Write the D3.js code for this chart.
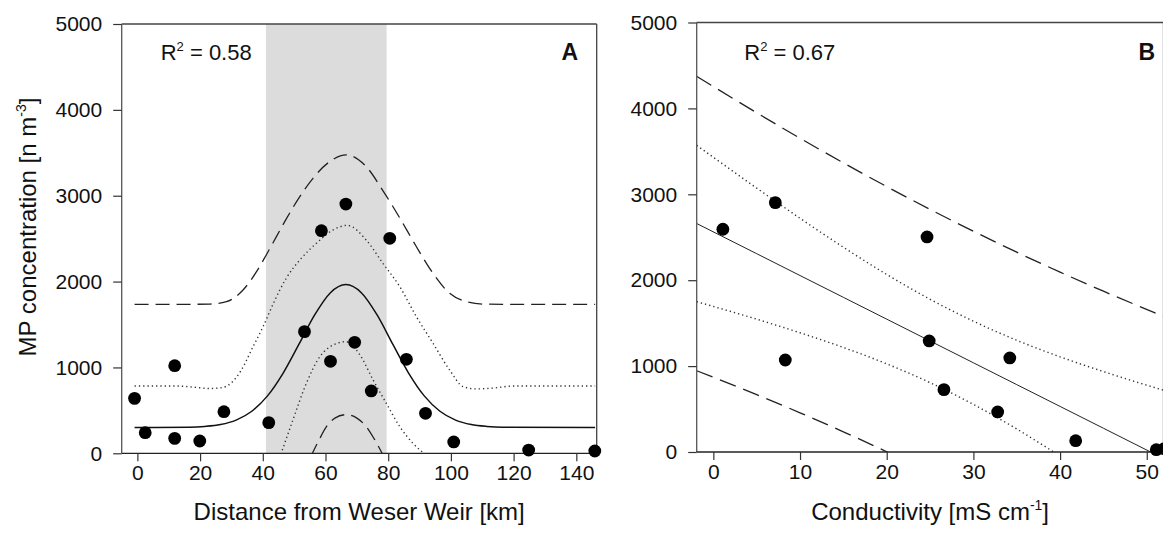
<!DOCTYPE html>
<html>
<head>
<meta charset="utf-8">
<script src="https://cdn.jsdelivr.net/npm/d3@7"></script>
<style>
  body { margin: 0; background: #fff; }
  svg { display: block; font-family: "Liberation Sans", Arial, Helvetica, sans-serif; }
</style>
</head>
<body>
<svg id="chart" width="1163" height="533"></svg>
<script>
// ---------- Panel A: MP concentration vs distance from Weser Weir ----------
const distKm = [-0.9, 2.5, 11.9, 11.9, 19.9, 27.6, 41.9, 53.3, 58.7, 61.6, 66.5, 69.3, 74.6, 80.5, 85.8, 91.9, 100.9, 124.8, 145.9];
const concA  = [640, 240, 1020, 174, 143, 485, 357, 1417, 2593, 1071, 2903, 1293, 726, 2504, 1095, 466, 132, 38, 27];

const shadeKm = [41, 79.5];

// Gaussian fit
const fitKmA  = [-0.9, 16.5, 21.5, 26.5, 31.5, 36.5, 41.5, 46.5, 51.5, 56.5, 61.5, 66.5, 71.5, 76.5, 81.5, 86.5, 91.5, 96.5, 101.5, 106.5, 111.5, 116.5, 146];
const fitValA = [300, 304, 313, 335, 387, 490, 669, 935, 1268, 1609, 1868, 1965, 1868, 1609, 1268, 935, 669, 490, 387, 335, 313, 304, 300];

// 95% prediction band (dashed)
const upPredKmA  = [-0.9, 15, 23, 28.4, 33.7, 38, 41.1, 44.3, 47.5, 51.8, 56, 61.3, 66.6, 73, 78.3, 83.7, 89, 94.3, 99.6, 104.9, 110.2, 118, 146];
const upPredValA = [1735, 1735, 1738, 1766, 1902, 2115, 2310, 2520, 2730, 2989, 3203, 3396, 3476, 3338, 3060, 2740, 2406, 2096, 1863, 1766, 1738, 1735, 1735];
const loPredKmA  = [55.3, 58, 60.3, 63, 66.5, 70, 73, 75.5, 78.5];
const loPredValA = [-40, 160, 310, 410, 450, 410, 310, 170, -30];

// 95% confidence band (dotted)
const upConfKmA  = [-0.9, 12, 18, 23, 27, 30.5, 33, 36.9, 40.1, 43.3, 47.5, 51.8, 57.1, 62.4, 67, 73, 78.3, 83.7, 89, 94.3, 99.6, 103.9, 108, 113, 120, 146];
const upConfValA = [784, 784, 770, 755, 765, 840, 960, 1242, 1475, 1740, 2040, 2251, 2446, 2601, 2655, 2484, 2213, 1940, 1591, 1281, 970, 776, 750, 758, 784, 784];
const loConfKmA  = [45.3, 49.6, 53.9, 58.2, 62.4, 66.5, 70.9, 75.2, 79.4, 83.7, 87.9, 92.5];
const loConfValA = [-60, 388, 815, 1125, 1261, 1300, 1150, 854, 582, 310, 116, -30];

// ---------- Panel B: MP concentration vs conductivity ----------
const conductivity = [1.1, 7.15, 8.3, 24.65, 24.9, 26.6, 34.2, 32.8, 41.8, 51.1, 52.0];
const concB        = [2593, 2903, 1071, 2504, 1293, 726, 1095, 466, 132, 27, 38];

// Linear regression with bands
const condGrid   = [-1.92, 5, 10, 15, 20, 25, 30, 35, 40, 45, 52];
const fitValB    = [2660, 2308.5, 2054.5, 1800.5, 1546.5, 1292.5, 1038.5, 784.5, 530.5, 276.5, -79];
const upConfValB = [3570, 3072, 2721, 2384, 2067, 1778, 1523, 1301, 1108, 936, 717];
const upPredValB = [4374, 3949, 3653, 3366, 3090, 2824, 2570, 2326, 2094, 1872, 1577];
const loConfCond = [-1.92, 5, 10, 15, 20, 25, 30, 35, 40];
const loConfValB = [1750, 1546, 1388, 1217, 1026, 807, 554, 268, -48];
const loPredCond = [-1.92, 5, 10, 15, 20, 22];
const loPredValB = [946, 668, 456, 235, 3, -92];

// ---------- Axes ----------
const yTicks  = [0, 1000, 2000, 3000, 4000, 5000];
const xTicksA = [0, 20, 40, 60, 80, 100, 120, 140];
const xTicksB = [0, 10, 20, 30, 40, 50];

const svg = d3.select("#chart");

const STYLE = {
  fit:  { width: 1.5, dash: null, color: "#111" },
  fitB: { width: 1.0, dash: null, color: "#222" },
  pred: { width: 1.3, dash: "14,7", color: "#222" },
  predB:{ width: 1.3, dash: "17,8", color: "#222" },
  conf: { width: 1.4, dash: "1.3,3", color: "#333" }
};

function drawPanel(p) {
  const x = d3.scaleLinear().domain(p.xDomain).range([p.left, p.right]);
  const y = d3.scaleLinear().domain([0, 5000]).range([p.bottom, p.top]);
  const g = svg.append("g");

  const clipId = "clip-" + p.id;
  g.append("clipPath").attr("id", clipId)
    .append("rect")
    .attr("x", p.left).attr("y", p.top)
    .attr("width", p.right - p.left).attr("height", p.bottom - p.top);

  if (p.shade) {
    g.append("rect")
      .attr("x", x(p.shade[0])).attr("y", y(5000))
      .attr("width", x(p.shade[1]) - x(p.shade[0]))
      .attr("height", y(0) - y(5000))
      .attr("fill", "#dcdcdc");
  }

  const line = d3.line()
    .x(d => x(d[0])).y(d => y(d[1]))
    .curve(p.curve || d3.curveMonotoneX);

  const lines = g.append("g").attr("clip-path", `url(#${clipId})`);
  p.lines.forEach(l => {
    const pts = l.xs.map((v, i) => [v, l.ys[i]]);
    lines.append("path")
      .attr("d", line(pts))
      .attr("fill", "none")
      .attr("stroke", l.style.color)
      .attr("stroke-width", l.style.width)
      .attr("stroke-dasharray", l.style.dash);
  });

  // frame
  g.append("line").attr("x1", p.left).attr("x2", p.right).attr("y1", p.top).attr("y2", p.top)
    .attr("stroke", "#444").attr("stroke-width", 1.3);
  g.append("line").attr("x1", p.right).attr("x2", p.right).attr("y1", p.top).attr("y2", p.bottom)
    .attr("stroke", "#444").attr("stroke-width", 1.3);
  g.append("line").attr("x1", p.left).attr("x2", p.left).attr("y1", p.top).attr("y2", p.bottom)
    .attr("stroke", "#555").attr("stroke-width", 1.3);
  g.append("line").attr("x1", p.left).attr("x2", p.right).attr("y1", p.bottom).attr("y2", p.bottom)
    .attr("stroke", "#222").attr("stroke-width", 1.3);

  // axes
  const fmt = d3.format("d");
  const xa = g.append("g").attr("transform", `translate(0,${p.bottom})`)
    .call(d3.axisBottom(x).tickValues(p.xTicks).tickFormat(fmt).tickSize(8).tickPadding(4));
  const ya = g.append("g").attr("transform", `translate(${p.left},0)`)
    .call(d3.axisLeft(y).tickValues(yTicks).tickFormat(fmt).tickSize(8.5).tickPadding(11));
  [xa, ya].forEach(a => {
    a.select(".domain").remove();
    a.selectAll(".tick line").attr("stroke", "#333").attr("stroke-width", 1.2);
    a.selectAll(".tick text").attr("fill", "#111").style("font-size", "21px")
      .style("font-family", "\"Liberation Sans\", Arial, sans-serif");
  });

  // points
  g.append("g").selectAll("circle")
    .data(p.xsPts.map((v, i) => [v, p.ysPts[i]]))
    .join("circle")
    .attr("cx", d => x(d[0])).attr("cy", d => y(d[1]))
    .attr("r", 6.4).attr("fill", "#000");

  // R² annotation
  const r2 = g.append("text").attr("x", p.left + p.r2dx).attr("y", 60)
    .attr("fill", "#111").style("font-size", "22px");
  r2.append("tspan").text("R");
  r2.append("tspan").attr("dy", -9).style("font-size", "13px").text("2");
  r2.append("tspan").attr("dy", 9).text(" = " + p.r2);

  // panel letter
  g.append("text").attr("x", p.right - p.letterDx).attr("y", 60)
    .attr("text-anchor", "end").attr("fill", "#111")
    .style("font-size", "23px").style("font-weight", "bold").text(p.letter);

  // x title
  const xt = g.append("text").attr("x", (p.left + p.right) / 2).attr("y", 520)
    .attr("text-anchor", "middle").attr("fill", "#111").style("font-size", "24px");
  xt.append("tspan").text(p.xTitle[0]);
  if (p.xTitle[1]) {
    xt.append("tspan").attr("dy", -10).style("font-size", "14px").text(p.xTitle[1]);
    xt.append("tspan").attr("dy", 10).text(p.xTitle[2]);
  }

  return { x, y };
}

drawPanel({
  id: "a", left: 121.7, right: 596.7, top: 24, bottom: 453.3,
  xDomain: [-5, 146.5], xTicks: xTicksA, shade: shadeKm,
  lines: [
    { xs: upPredKmA, ys: upPredValA, style: STYLE.pred },
    { xs: loPredKmA, ys: loPredValA, style: STYLE.pred },
    { xs: upConfKmA, ys: upConfValA, style: STYLE.conf },
    { xs: loConfKmA, ys: loConfValA, style: STYLE.conf },
    { xs: fitKmA, ys: fitValA, style: STYLE.fit }
  ],
  xsPts: distKm, ysPts: concA,
  r2: "0.58", r2dx: 39, letter: "A", letterDx: 18.5,
  xTitle: ["Distance from Weser Weir [km]"]
});

drawPanel({
  id: "b", left: 696.7, right: 1163.5, top: 22.5, bottom: 452,
  xDomain: [-1.92, 51.93], xTicks: xTicksB, curve: d3.curveMonotoneX,
  lines: [
    { xs: condGrid, ys: upPredValB, style: STYLE.predB },
    { xs: loPredCond, ys: loPredValB, style: STYLE.predB },
    { xs: condGrid, ys: upConfValB, style: STYLE.conf },
    { xs: loConfCond, ys: loConfValB, style: STYLE.conf },
    { xs: condGrid, ys: fitValB, style: STYLE.fitB }
  ],
  xsPts: conductivity, ysPts: concB,
  r2: "0.67", r2dx: 47.6, letter: "B", letterDx: 8.5,
  xTitle: ["Conductivity [mS cm", "-1", "]"]
});

// y-axis title (left panel only)
const yt = svg.append("text")
  .attr("transform", "translate(36,227) rotate(-90)")
  .attr("text-anchor", "middle").attr("fill", "#111").style("font-size", "24px");
yt.append("tspan").text("MP concentration [n m");
yt.append("tspan").attr("dy", -10).style("font-size", "14px").text("-3");
yt.append("tspan").attr("dy", 10).text("]");
</script>
</body>
</html>
